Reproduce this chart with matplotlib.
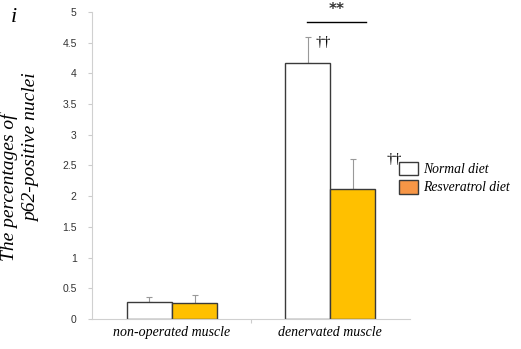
import matplotlib
matplotlib.use('Agg')
import matplotlib.pyplot as plt
import numpy as np
from matplotlib.patches import Patch

categories = ['non-operated muscle', 'denervated muscle']
normal = [0.28, 4.17]
normal_err = [0.08, 0.43]
resv = [0.265, 2.12]
resv_err = [0.12, 0.48]
y_ticks = [0, 0.5, 1, 1.5, 2, 2.5, 3, 3.5, 4, 4.5, 5]

serif = ['Liberation Serif', 'DejaVu Serif']

fig = plt.figure(figsize=(5.21, 3.49), dpi=100)
ax = fig.add_axes([0.1766, 0.086, 0.6104, 0.8796])

x = np.arange(len(categories))
w = 0.285
ax.bar(x - w / 2, normal, w, color='white', edgecolor='#3a3a3a', linewidth=1.0, zorder=2)
ax.bar(x + w / 2, resv, w, color='#FFC000', edgecolor='#3a3a3a', linewidth=1.0, zorder=2)
ax.errorbar(x - w / 2, normal, yerr=[np.zeros(2), normal_err], fmt='none',
            ecolor='#999999', elinewidth=0.8, capsize=2.5, capthick=0.8, zorder=1)
ax.errorbar(x + w / 2, resv, yerr=[np.zeros(2), resv_err], fmt='none',
            ecolor='#999999', elinewidth=0.8, capsize=2.5, capthick=0.8, zorder=1)

# significance marks
ax.text(0.905, 4.5, '\u2020\u2020', fontsize=11, family=serif, va='center', ha='left')
ax.text(1.36, 2.59, '\u2020\u2020', fontsize=11, family=serif, va='center', ha='left')
ax.plot([0.854, 1.228], [4.84, 4.84], color='black', lw=1.0, clip_on=False)
ax.text(1.04, 4.97, '**', fontsize=11, ha='center', va='baseline', family=['DejaVu Sans'],
        fontweight='bold', color='#333333')

ax.set_xlim(-0.506, 1.506)
ax.set_ylim(0, 5)
ax.set_yticks(y_ticks)
ax.set_yticklabels([f'{v:g}' for v in y_ticks], fontsize=7.5, color='#333333',
                   family=['Liberation Sans', 'DejaVu Sans'])
ax.set_xticks([0.5])
ax.set_xticklabels([''])
ax.tick_params(axis='x', length=3, color='#cccccc', direction='out')
ax.tick_params(axis='y', length=3, color='#cccccc', pad=8)
for i, c in enumerate(categories):
    ax.text(i, -0.11, c, ha='center', va='top', fontsize=10, style='italic', family=serif)

for s in ['top', 'right']:
    ax.spines[s].set_visible(False)
ax.spines['left'].set_color('#d0d0d0')
ax.spines['bottom'].set_color('#d0d0d0')

fig.text(9 / 521, 1 - 187 / 349, 'The percentages of', rotation=90, ha='center',
         va='center', fontsize=14, style='italic', family=serif)
fig.text(32 / 521, 1 - 148 / 349, 'p62-positive nuclei', rotation=90, ha='center',
         va='center', fontsize=14, style='italic', family=serif)
fig.text(0.02, 1 - 17 / 349, 'i', fontsize=16, style='italic', family=serif, va='center')

handles = [Patch(facecolor='white', edgecolor='#3a3a3a', label='Normal diet'),
           Patch(facecolor='#F79646', edgecolor='#3a3a3a', label='Resveratrol diet')]
fig.legend(handles=handles, loc='center left', bbox_to_anchor=(0.743, 0.49), frameon=False,
           prop={'family': serif, 'style': 'italic', 'size': 9.8}, handlelength=1.35,
           handleheight=1.15, handletextpad=0.4, labelspacing=0.3)

fig.savefig('out.png', dpi=100)
